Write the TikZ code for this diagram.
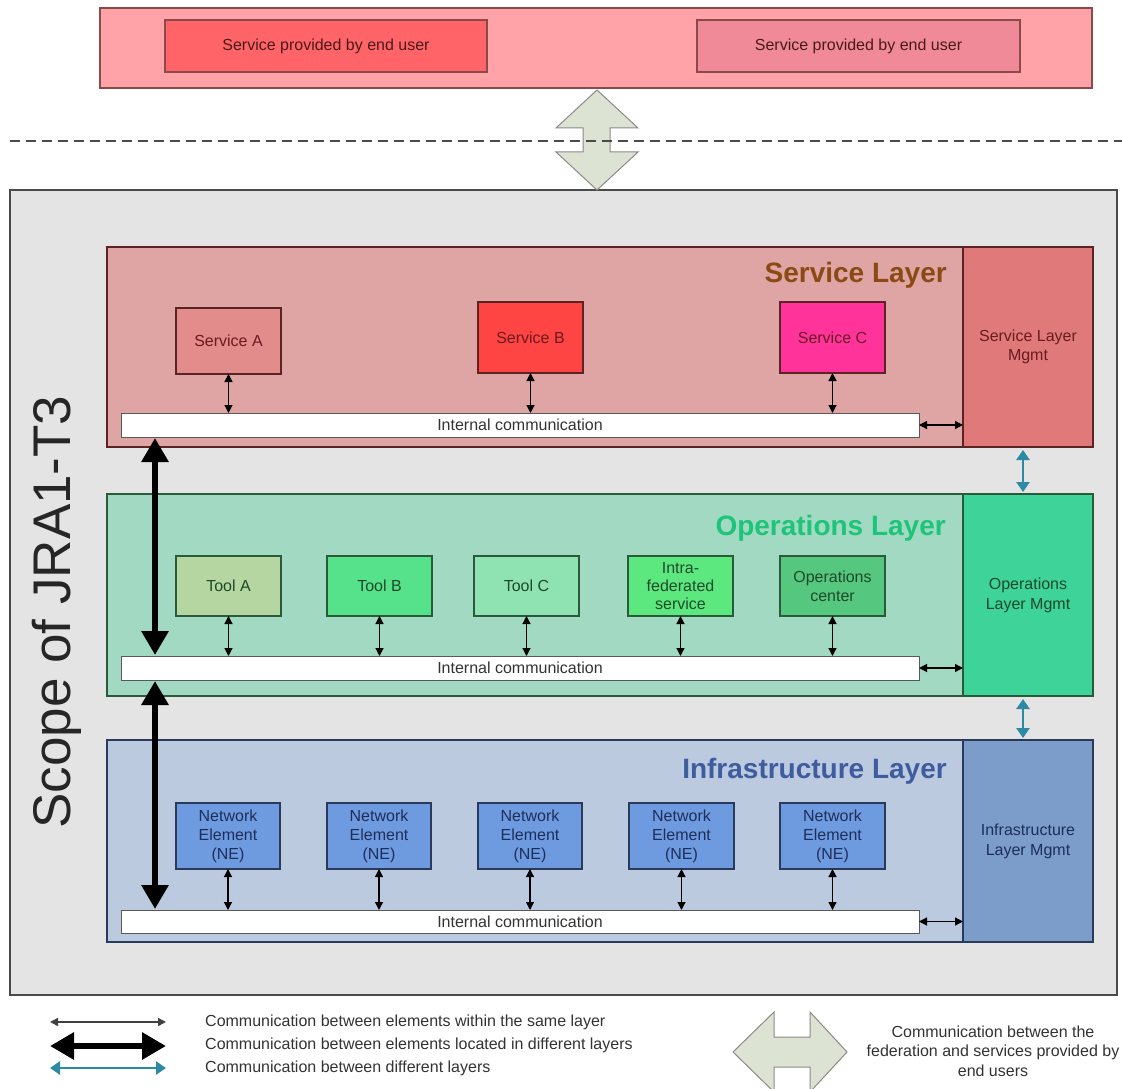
\documentclass[tikz,border=0pt]{standalone}
\usepackage{fontspec}
\setmainfont{Liberation Sans}
\usetikzlibrary{arrows.meta}
\definecolor{topfill}{HTML}{FFA3A8}
\definecolor{topline}{HTML}{8A4A4A}
\definecolor{euA}{HTML}{FF6468}
\definecolor{euB}{HTML}{F08A98}
\definecolor{eutext}{HTML}{4A1A1A}
\definecolor{scopefill}{HTML}{E4E4E4}
\definecolor{scopeline}{HTML}{4A4A4A}
\definecolor{slfill}{HTML}{DFA4A4}
\definecolor{slmfill}{HTML}{E07A7A}
\definecolor{svcline}{HTML}{5A2424}
\definecolor{svctext}{HTML}{6A1A20}
\definecolor{sltitle}{HTML}{8B4A14}
\definecolor{safill}{HTML}{E28C8C}
\definecolor{sbfill}{HTML}{FF4444}
\definecolor{scfill}{HTML}{FF3399}
\definecolor{olfill}{HTML}{A2D9C2}
\definecolor{olmfill}{HTML}{3DD399}
\definecolor{opsline}{HTML}{2A5A3A}
\definecolor{opstext}{HTML}{1E4A2A}
\definecolor{oltitle}{HTML}{1DC47A}
\definecolor{tafill}{HTML}{B5D6A0}
\definecolor{tbfill}{HTML}{55E28A}
\definecolor{tcfill}{HTML}{8FE3B3}
\definecolor{tffill}{HTML}{5DE87F}
\definecolor{tnfill}{HTML}{55C77E}
\definecolor{ilfill}{HTML}{BCCAE0}
\definecolor{ilmfill}{HTML}{7C9CC9}
\definecolor{infline}{HTML}{2A3A5A}
\definecolor{inftext}{HTML}{1E2E5A}
\definecolor{iltitle}{HTML}{3E5C9E}
\definecolor{nefill}{HTML}{6E9BE0}
\definecolor{tealc}{HTML}{2C8AA5}
\definecolor{bigfill}{HTML}{DDE3D2}
\definecolor{bigline}{HTML}{8A8A8A}
\definecolor{legtext}{HTML}{333333}
\newcommand\mkbox[7]{\node[#6,minimum width={(#4-#2)*1pt},minimum height={(#5-#3)*1pt},anchor=north west] (#1) at (#2,#3) {#7};}
\begin{document}
\begin{tikzpicture}[x=1pt,y=-1pt,
  box/.style={inner sep=0pt,outer sep=0pt,align=center,font=\fontsize{16}{19}\selectfont,line width=1.1pt},
  svc/.style={box,draw=svcline,text=svctext},
  ops/.style={box,draw=opsline,text=opstext},
  inf/.style={box,draw=infline,text=inftext},
  bar/.style={box,draw=gray!70!black,fill=white,text=legtext,line width=1pt},
  title/.style={font=\fontsize{28}{32}\selectfont\bfseries,anchor=base east,inner sep=0pt},
  arr/.style={line width=1.2pt,{Triangle[length=8pt,width=8pt]}-{Triangle[length=8pt,width=8pt]}},
  fat/.style={line width=6pt,{Triangle[length=24pt,width=26pt]}-{Triangle[length=24pt,width=26pt]}},
  tealarr/.style={draw=tealc,fill=tealc,line width=2.5pt,{Triangle[length=10pt,width=13pt]}-{Triangle[length=10pt,width=13pt]}},
  bigarrow/.style={fill=bigfill,draw=bigline,line width=1pt,line join=miter},
  dashline/.style={draw=scopeline,line width=1.2pt,dash pattern=on 10pt off 6pt},
  legend/.style={font=\fontsize{16}{19.5}\selectfont,text=legtext,inner sep=0pt,anchor=west}
]
\useasboundingbox (0,0) rectangle (1122,1089);
\clip (0,0) rectangle (1122,1089);
\fill[white] (0,0) rectangle (1122,1089);

% top: services provided by end users
\mkbox{top}{100}{8}{1092}{88}{box,draw=topline,fill=topfill}{}
\mkbox{eu1}{165}{20}{487}{72}{box,draw=topline,fill=euA,text=eutext}{Service provided by end user}
\mkbox{eu2}{697}{20}{1020}{72}{box,draw=topline,fill=euB,text=eutext}{Service provided by end user}

% scope
\mkbox{scope}{10}{190}{1117}{995}{box,draw=scopeline,fill=scopefill,line width=1.5pt}{}
\node[rotate=90,font=\fontsize{53}{53}\selectfont,text=black!85,inner sep=0pt] (scopet) at (57,612) {Scope of JRA1-T3};

% federation <-> end users arrow
\draw[bigarrow] (597,90) -- (638,128) -- (610,128) -- (610,152) -- (638,152) -- (597,190)
  -- (556,152) -- (583,152) -- (583,128) -- (556,128) -- cycle;
\coordinate (dl1) at (10,141);
\coordinate (dl2) at (1122,141);
\draw[dashline] (dl1) -- (dl2);

% Service layer
\mkbox{sl}{107}{247}{963}{447}{svc,fill=slfill}{}
\mkbox{slm}{963}{247}{1093}{447}{svc,fill=slmfill}{Service Layer\\Mgmt}
\node[title,text=sltitle] (slt) at (947,282) {Service Layer};
\mkbox{sa}{176}{308}{281}{374}{svc,fill=safill}{Service A}
\mkbox{sb}{478}{302}{583}{373}{svc,fill=sbfill}{Service B}
\mkbox{sc}{780}{302}{885}{373}{svc,fill=scfill}{Service C}
\mkbox{sbar}{121}{413}{919}{437}{bar}{Internal communication}
\foreach \n in {sa,sb,sc} \draw[arr] (\n.south) -- (\n.south |- sbar.north);
\draw[arr] (sbar.east) -- (sbar.east -| slm.west);

% Operations layer
\mkbox{ol}{107}{494}{963}{696}{ops,fill=olfill}{}
\mkbox{olm}{963}{494}{1093}{696}{ops,fill=olmfill}{Operations\\[1pt]Layer Mgmt}
\node[title,text=oltitle] (olt) at (946,535) {Operations Layer};
\mkbox{ta}{176}{556}{281}{616}{ops,fill=tafill}{Tool A}
\mkbox{tb}{327}{556}{432}{616}{ops,fill=tbfill}{Tool B}
\mkbox{tc}{474}{556}{579}{616}{ops,fill=tcfill}{Tool C}
\mkbox{tf}{628}{556}{733}{616}{ops,fill=tffill,font=\fontsize{16}{18}\selectfont}{Intra-\\federated\\service}
\mkbox{tn}{780}{556}{885}{616}{ops,fill=tnfill}{Operations\\center}
\mkbox{obar}{121}{656}{919}{680}{bar}{Internal communication}
\foreach \n in {ta,tb,tc,tf,tn} \draw[arr] (\n.south) -- (\n.south |- obar.north);
\draw[arr] (obar.east) -- (obar.east -| olm.west);

% Infrastructure layer
\mkbox{il}{107}{740}{963}{942}{inf,fill=ilfill}{}
\mkbox{ilm}{963}{740}{1093}{942}{inf,fill=ilmfill}{Infrastructure\\[1pt]Layer Mgmt}
\node[title,text=iltitle] (ilt) at (947,778) {Infrastructure Layer};
\mkbox{n1}{176}{803}{280}{869}{inf,fill=nefill}{Network\\Element\\(NE)}
\mkbox{n2}{327}{803}{431}{869}{inf,fill=nefill}{Network\\Element\\(NE)}
\mkbox{n3}{478}{803}{582}{869}{inf,fill=nefill}{Network\\Element\\(NE)}
\mkbox{n4}{629}{803}{734}{869}{inf,fill=nefill}{Network\\Element\\(NE)}
\mkbox{n5}{780}{803}{885}{869}{inf,fill=nefill}{Network\\Element\\(NE)}
\mkbox{ibar}{121}{910}{919}{933}{bar}{Internal communication}
\foreach \n in {n1,n2,n3,n4,n5} \draw[arr] (\n.south) -- (\n.south |- ibar.north);
\draw[arr] (ibar.east) -- (ibar.east -| ilm.west);

% between layers: elements
\draw[fat] ([xshift=34pt,yshift=-1pt]sbar.south west) -- ([xshift=34pt,yshift=1pt]obar.north west);
\draw[fat] ([xshift=34pt,yshift=-1pt]obar.south west) -- ([xshift=34pt,yshift=1pt]ibar.north west);
% between layers: management
\draw[tealarr] ([xshift=-5pt,yshift=-3pt]slm.south) -- ([xshift=-5pt,yshift=2pt]olm.north);
\draw[tealarr] ([xshift=-5pt,yshift=-3pt]olm.south) -- ([xshift=-5pt,yshift=2pt]ilm.north);

% legend
\coordinate (la1) at (50,1022); \coordinate (lb1) at (166,1022);
\coordinate (la2) at (50,1046); \coordinate (lb2) at (166,1046);
\coordinate (la3) at (50,1068); \coordinate (lb3) at (166,1068);
\draw[arr,draw=black!75,fill=black!75,line width=1.5pt] (la1) -- (lb1);
\draw[fat] (la2) -- (lb2);
\draw[tealarr] (la3) -- (lb3);
\node[legend] (lt1) at (205,1022) {Communication between elements within the same layer};
\node[legend] (lt2) at (205,1045) {Communication between elements located in different layers};
\node[legend] (lt3) at (205,1068) {Communication between different layers};
\draw[bigarrow] (733,1052) -- (774,1012) -- (774,1037) -- (810,1037) -- (810,1012) -- (847,1052)
  -- (810,1092) -- (810,1067) -- (774,1067) -- (774,1092) -- cycle;
\node[font=\fontsize{16}{19.5}\selectfont,text=legtext,align=center,inner sep=0pt] (lt4) at (993,1051)
  {Communication between the\\federation and services provided by\\end users};
\end{tikzpicture}
\end{document}
